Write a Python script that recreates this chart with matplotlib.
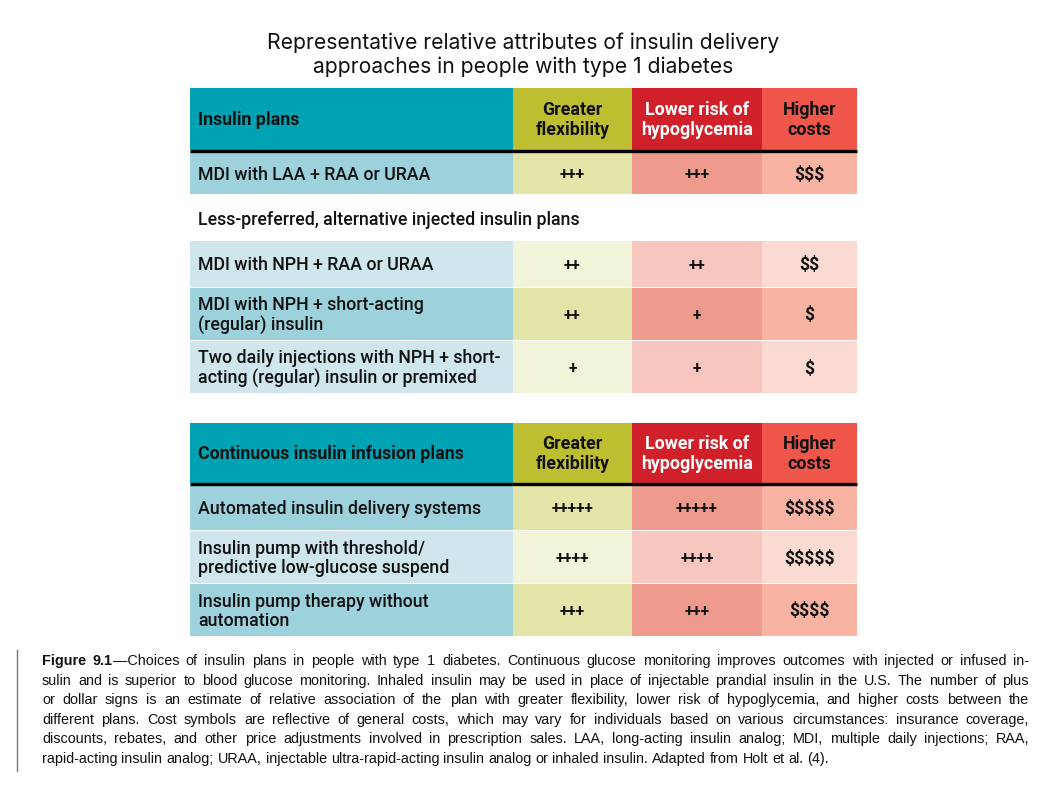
import matplotlib.pyplot as plt
from matplotlib.patches import Rectangle

plt.rcParams['text.parse_math'] = False

title = 'Representative relative attributes of insulin delivery\napproaches in people with type 1 diabetes'
col_headers = ['Greater\nflexibility', 'Lower risk of\nhypoglycemia', 'Higher\ncosts']

sec1_header = 'Insulin plans'
sec1_rows = ['MDI with LAA + RAA or URAA']
sec1_flex = [3]
sec1_hypo = [3]
sec1_cost = [3]

sub_header = 'Less-preferred, alternative injected insulin plans'
sub_rows = ['MDI with NPH + RAA or URAA',
            'MDI with NPH + short-acting\n(regular) insulin',
            'Two daily injections with NPH + short-\nacting (regular) insulin or premixed']
sub_flex = [2, 2, 1]
sub_hypo = [2, 1, 1]
sub_cost = [2, 1, 1]

sec2_header = 'Continuous insulin infusion plans'
sec2_rows = ['Automated insulin delivery systems',
             'Insulin pump with threshold/\npredictive low-glucose suspend',
             'Insulin pump therapy without\nautomation']
sec2_flex = [5, 4, 3]
sec2_hypo = [5, 4, 3]
sec2_cost = [5, 5, 4]

caption_lines = [
    '\u2014Choices of insulin plans in people with type 1 diabetes. Continuous glucose monitoring improves outcomes with injected or infused in-',
    'sulin and is superior to blood glucose monitoring. Inhaled insulin may be used in place of injectable prandial insulin in the U.S. The number of plus',
    'or dollar signs is an estimate of relative association of the plan with greater flexibility, lower risk of hypoglycemia, and higher costs between the',
    'different plans. Cost symbols are reflective of general costs, which may vary for individuals based on various circumstances: insurance coverage,',
    'discounts, rebates, and other price adjustments involved in prescription sales. LAA, long-acting insulin analog; MDI, multiple daily injections; RAA,',
    'rapid-acting insulin analog; URAA, injectable ultra-rapid-acting insulin analog or inhaled insulin. Adapted from Holt et al. (4).',
]

# colours
hdr_cols = ['#00A3B4', '#BDBF31', '#D0202A', '#F0574A']
dark_cols = ['#9DD1DC', '#E3E4A7', '#EE9A8C', '#F8B3A2']
light_cols = ['#CFE7EC', '#F1F4D9', '#F7C6BE', '#FBDAD2']

xs = [190, 513, 632, 762, 857]
font = ['Roboto', 'DejaVu Sans']
fs = 12.8

fig = plt.figure(figsize=(10.46, 7.94), dpi=100)
ax = fig.add_axes([0, 0, 1, 1])
ax.set_xlim(0, 1046)
ax.set_ylim(794, 0)
ax.axis('off')

ax.text(523, 55, title, ha='center', va='center', fontsize=15.2,
        family=['Inter', 'DejaVu Sans'], fontweight='normal', linespacing=1.22,
        color='#111111')


def header(y0, y1, label):
    for i in range(4):
        ax.add_patch(Rectangle((xs[i], y0), xs[i + 1] - xs[i], y1 - y0,
                               facecolor=hdr_cols[i], edgecolor='none'))
    ax.text(xs[0] + 8, (y0 + y1) / 2 + 1, label, ha='left', va='center',
            fontsize=fs, fontweight='bold', family=font, color='#111111')
    for i, h in enumerate(col_headers):
        c = 'white' if i == 1 else '#111111'
        ax.text((xs[i + 1] + xs[i + 2]) / 2, (y0 + y1) / 2 + 1, h, ha='center', va='center',
                fontsize=fs, fontweight='bold', family=font, color=c, linespacing=1.1)
    ax.plot([xs[0], xs[-1]], [y1 + 0.5, y1 + 0.5], color='black', lw=2.4, solid_capstyle='butt')


def rows(bounds, labels, flex, hypo, cost, first_dark=True):
    for k, lab in enumerate(labels):
        y0, y1 = bounds[k], bounds[k + 1]
        dark = (k % 2 == 0) == first_dark
        cols = dark_cols if dark else light_cols
        for i in range(4):
            ax.add_patch(Rectangle((xs[i], y0), xs[i + 1] - xs[i], y1 - y0 - 1,
                                   facecolor=cols[i], edgecolor='none'))
        yc = (y0 + y1) / 2 + 1
        ax.text(xs[0] + 8, yc, lab, ha='left', va='center', fontsize=fs,
                fontweight='medium', family=font, color='#111111', linespacing=1.1)
        vals = ['+' * flex[k], '+' * hypo[k]]
        for i, v in enumerate(vals):
            ax.text((xs[i + 1] + xs[i + 2]) / 2, yc, v, ha='center', va='center',
                    fontsize=11.2, fontweight='bold', family=font, color='#111111')
        ax.text((xs[3] + xs[4]) / 2, yc, '$' * cost[k], ha='center', va='center',
                fontsize=fs, fontweight='bold', family=font, color='#111111')


header(88, 150, sec1_header)
rows([152, 195], sec1_rows, sec1_flex, sec1_hypo, sec1_cost)

ax.text(xs[0] + 8, 220, sub_header, ha='left', va='center', fontsize=fs,
        fontweight='medium', family=font, color='#111111')
rows([241, 288, 341, 394], sub_rows, sub_flex, sub_hypo, sub_cost, first_dark=False)

header(423, 483, sec2_header)
rows([485, 531, 584, 637], sec2_rows, sec2_flex, sec2_hypo, sec2_cost)

# caption, justified line by line
ax.plot([17, 17], [650, 771], color='#777777', lw=1)
cap_font = ['Liberation Sans', 'DejaVu Sans']
cap_fs = 10.4
renderer = fig.canvas.get_renderer()


def width(s, bold=False):
    t = ax.text(0, 0, s, fontsize=cap_fs, family=cap_font,
                fontweight='bold' if bold else 'normal')
    w = t.get_window_extent(renderer).width
    t.remove()
    return w


x_left, x_right = 42, 1029
y = 665
for j, line in enumerate(caption_lines):
    words = [[(w, False)] for w in line.split(' ')]
    if j == 0:
        words[0] = [('9.1', True), (words[0][0][0], False)]
        words.insert(0, [('Figure', True)])
    widths = [sum(width(s, b) for s, b in wd) for wd in words]
    if j < len(caption_lines) - 1:
        gap = (x_right - x_left - sum(widths)) / (len(words) - 1)
    else:
        gap = width('a b') - width('ab')
    x = x_left
    for wd, ww in zip(words, widths):
        xx = x
        for s, b in wd:
            ax.text(xx, y, s, ha='left', va='baseline', fontsize=cap_fs, family=cap_font,
                    fontweight='bold' if b else 'normal', color='#111111')
            xx += width(s, b)
        x += ww + gap
    y += 19.6

fig.savefig('out.png', dpi=100)
